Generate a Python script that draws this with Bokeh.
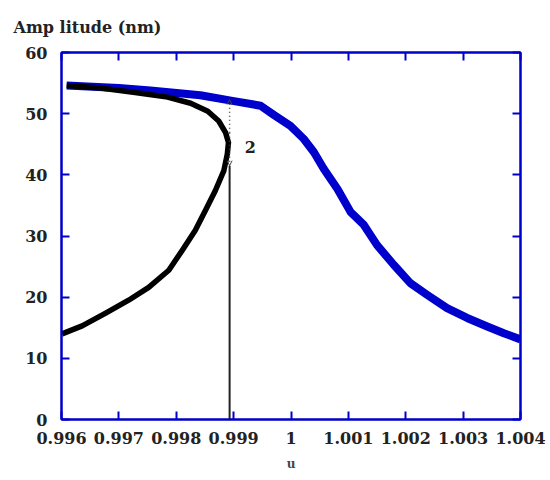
from bokeh.plotting import figure
from bokeh.models import (Range1d, FixedTicker, CustomJSTickFormatter, LinearAxis,
                          Arrow, OpenHead, Label)
from bokeh.embed import file_html
from bokeh.resources import INLINE

# ---- data ----
blue_u = [0.99609, 0.99700, 0.99755, 0.99842, 0.99898, 0.99947, 0.99970, 0.99999,
          1.00022, 1.00040, 1.00057, 1.00081, 1.00104, 1.00127, 1.00150, 1.00179,
          1.00208, 1.00237, 1.00272, 1.00307, 1.00342, 1.00371, 1.00400]
blue_amp = [54.6, 54.2, 53.8, 53.0, 52.1, 51.3, 49.8, 48.0,
            45.9, 43.7, 41.0, 37.7, 33.9, 31.8, 28.5, 25.3,
            22.3, 20.4, 18.2, 16.6, 15.2, 14.1, 13.1]

black_u = [0.99609, 0.99668, 0.99725, 0.99785, 0.99825, 0.99855, 0.99874, 0.99886,
           0.99891, 0.99889, 0.99883, 0.99868, 0.99851, 0.99833, 0.99810, 0.99787,
           0.99752, 0.99717, 0.99677, 0.99636, 0.99601]
black_amp = [54.6, 54.2, 53.5, 52.7, 51.7, 50.4, 48.8, 46.9,
             45.3, 43.4, 40.7, 37.4, 34.2, 30.9, 27.6, 24.4,
             21.6, 19.5, 17.4, 15.3, 14.0]

jump_u = 0.99893
jump_low = 41.5
jump_high = 52.3
jump_text = "2"
jump_text_u = 0.99929
jump_text_amp = 44.6

x_ticks = [0.996, 0.997, 0.998, 0.999, 1.0, 1.001, 1.002, 1.003, 1.004]
x_tick_labels = ["0.996", "0.997", "0.998", "0.999", "1", "1.001", "1.002", "1.003", "1.004"]
y_ticks = [0, 10, 20, 30, 40, 50, 60]

title_text = "Amp litude (nm)"
x_label = "u"

BLUE = "#0000cc"
FONT = "DejaVu Serif"

p = figure(width=550, height=480, output_backend="svg", toolbar_location=None,
           x_range=Range1d(0.996, 1.004), y_range=Range1d(0, 60),
           min_border_left=61, min_border_right=30, min_border_top=50,
           min_border_bottom=61, x_axis_location=None, y_axis_location=None)
p.background_fill_color = "white"
p.border_fill_color = "white"
p.grid.visible = False
p.outline_line_color = BLUE
p.outline_line_width = 2

fmt = CustomJSTickFormatter(args=dict(tick_vals=x_ticks, tick_labels=x_tick_labels), code="""
let best = 0; let d = 1e9;
for (let i = 0; i < tick_vals.length; i++) {
  const dd = Math.abs(tick_vals[i] - tick);
  if (dd < d) { d = dd; best = i; }
}
return tick_labels[best];
""")
blank = CustomJSTickFormatter(code="return '';")

def style(ax):
    ax.axis_line_color = BLUE
    ax.axis_line_width = 2
    ax.major_tick_line_color = BLUE
    ax.major_tick_line_width = 2
    ax.major_tick_in = 8
    ax.major_tick_out = 0
    ax.minor_tick_line_color = None
    ax.major_label_text_font = FONT
    ax.major_label_text_font_style = "bold"
    ax.major_label_text_font_size = "16px"
    ax.major_label_text_color = "#222222"

xb = LinearAxis(ticker=FixedTicker(ticks=x_ticks), formatter=fmt, axis_label=x_label)
style(xb)
xb.major_label_standoff = 12
xb.axis_label_standoff = 10
xb.axis_label_text_font = FONT
xb.axis_label_text_font_style = "bold"
xb.axis_label_text_font_size = "12px"
p.add_layout(xb, "below")

xt = LinearAxis(ticker=FixedTicker(ticks=x_ticks), formatter=blank)
style(xt)
xt.major_label_standoff = 0
p.add_layout(xt, "above")

yl = LinearAxis(ticker=FixedTicker(ticks=y_ticks))
style(yl)
yl.major_label_standoff = 14
p.add_layout(yl, "left")

yr = LinearAxis(ticker=FixedTicker(ticks=y_ticks), formatter=blank)
style(yr)
yr.major_label_standoff = 0
p.add_layout(yr, "right")

p.title.text = title_text
p.title.align = "left"
p.title.offset = -48
p.title.standoff = 31
p.title.text_font = FONT
p.title.text_font_style = "bold"
p.title.text_font_size = "16px"
p.title.text_color = "#222222"

p.line(blue_u, blue_amp, line_color=BLUE, line_width=8, line_join="round")
p.line(black_u, black_amp, line_color="black", line_width=5.5, line_join="round")

p.line([jump_u, jump_u], [0, jump_low], line_color="#222222", line_width=2)
p.add_layout(Arrow(x_start=jump_u, y_start=(jump_low + jump_high) / 2, x_end=jump_u, y_end=jump_high,
                   line_dash="1 3", line_color="#444444", line_width=1.5,
                   end=OpenHead(size=5, line_color="#444444", line_width=1)))
p.add_layout(Arrow(x_start=jump_u, y_start=(jump_low + jump_high) / 2, x_end=jump_u, y_end=jump_low,
                   line_dash="1 3", line_color="#444444", line_width=1.5,
                   end=OpenHead(size=5, line_color="#444444", line_width=1)))
p.add_layout(Label(x=jump_text_u, y=jump_text_amp, text=jump_text, text_font=FONT,
                   text_font_style="bold", text_font_size="16px", text_align="center",
                   text_baseline="middle", text_color="#222222"))

open("out.html", "w").write(file_html(p, INLINE))
